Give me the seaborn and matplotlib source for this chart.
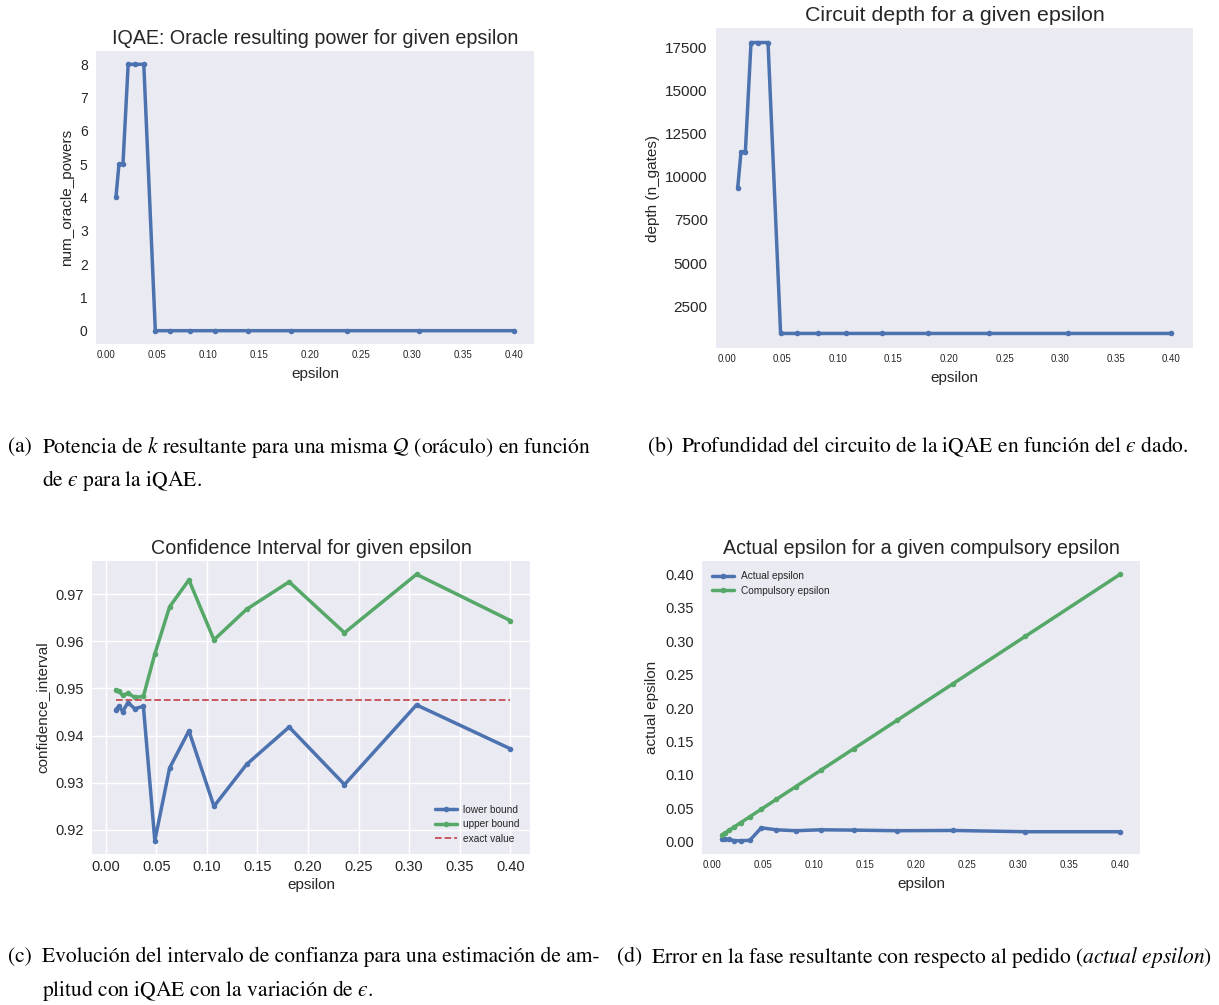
import matplotlib
matplotlib.use("Agg")
import matplotlib.pyplot as plt
import seaborn as sns
import pandas as pd

# ---------------- data ----------------
epsilon = [0.0100, 0.0130, 0.0169, 0.0220, 0.0287, 0.0373, 0.0486, 0.0632,
           0.0823, 0.1071, 0.1394, 0.1814, 0.2361, 0.3073, 0.4000]
num_oracle_powers = [4, 5, 5, 8, 8, 8, 0, 0, 0, 0, 0, 0, 0, 0, 0]
depth = [9350, 11450, 11450, 17780, 17780, 17780, 920, 920, 920, 920,
         920, 920, 920, 920, 920]
lower_bound = [0.9455, 0.9462, 0.9451, 0.9470, 0.9457, 0.9462, 0.9177, 0.9331,
               0.9410, 0.9250, 0.9339, 0.9418, 0.9296, 0.9465, 0.9372]
upper_bound = [0.9497, 0.9495, 0.9485, 0.9490, 0.9481, 0.9483, 0.9573, 0.9673,
               0.9730, 0.9603, 0.9668, 0.9726, 0.9618, 0.9742, 0.9644]
exact_value = 0.9475
actual_epsilon = [0.0035, 0.0035, 0.0035, 0.0015, 0.0015, 0.0020, 0.0208, 0.0178,
                  0.0164, 0.0178, 0.0173, 0.0164, 0.0168, 0.0149, 0.0149]
compulsory_epsilon = epsilon

df = pd.DataFrame({
    "epsilon": epsilon,
    "num_oracle_powers": num_oracle_powers,
    "depth": depth,
    "lower": lower_bound,
    "upper": upper_bound,
    "actual": actual_epsilon,
    "compulsory": compulsory_epsilon,
})

# ---------------- style ----------------
sns.set_theme(style="dark", rc={"axes.facecolor": "#EAEAF2"})
plt.rcParams["font.family"] = ["Liberation Sans", "DejaVu Sans"]
plt.rcParams["mathtext.fontset"] = "stix"

BLUE, GREEN, RED = "#4C72B0", "#55A868", "#C44E52"
TXT = "#262626"
W, H = 1219, 1005
fig = plt.figure(figsize=(W / 100, H / 100), dpi=100)


def box(l, t, r, b):
    return [l / W, 1 - b / H, (r - l) / W, (b - t) / H]


line_kw = dict(marker="o", markersize=4, linewidth=2.5, markeredgewidth=0)


def style_axes(ax, title, ylabel, xt_size, yt_size, title_size=14.2, lab_size=11,
               xlabelpad=5):
    ax.set_title(title, fontsize=title_size, color=TXT, pad=5)
    ax.set_xlabel("epsilon", fontsize=lab_size, color=TXT, labelpad=xlabelpad)
    ax.set_ylabel(ylabel, fontsize=lab_size, color=TXT, labelpad=4)
    ax.tick_params(axis="x", labelsize=xt_size, colors=TXT, pad=4, length=0)
    ax.tick_params(axis="y", labelsize=yt_size, colors=TXT, pad=6, length=0)
    for s in ax.spines.values():
        s.set_visible(False)
    ax.set_xticks([0.0, 0.05, 0.10, 0.15, 0.20, 0.25, 0.30, 0.35, 0.40])


# (a)
ax1 = fig.add_axes(box(96, 51, 534, 344))
sns.lineplot(data=df, x="epsilon", y="num_oracle_powers", ax=ax1, color=BLUE, **line_kw)
style_axes(ax1, "IQAE: Oracle resulting power for given epsilon", "num_oracle_powers", 7, 10)
ax1.grid(False)

# (b)
ax2 = fig.add_axes(box(716, 28, 1193, 348))
sns.lineplot(data=df, x="epsilon", y="depth", ax=ax2, color=BLUE, **line_kw)
style_axes(ax2, "Circuit depth for a given epsilon", "depth (n_gates)", 7, 11,
           title_size=15.4)
ax2.set_yticks([2500, 5000, 7500, 10000, 12500, 15000, 17500])
ax2.grid(False)

# (c)
ax3 = fig.add_axes(box(92, 561, 530, 854))
sns.lineplot(data=df, x="epsilon", y="lower", ax=ax3, color=BLUE, label="lower bound", **line_kw)
sns.lineplot(data=df, x="epsilon", y="upper", ax=ax3, color=GREEN, label="upper bound", **line_kw)
ax3.plot([epsilon[0], epsilon[-1]], [exact_value, exact_value], color=RED,
         linestyle="--", linewidth=1.3, label="exact value")
style_axes(ax3, "Confidence Interval for given epsilon", "confidence_interval", 10.5, 10.5,
           xlabelpad=3)
ax3.set_yticks([0.92, 0.93, 0.94, 0.95, 0.96, 0.97])
ax3.grid(True, color="white", linewidth=1)
ax3.set_axisbelow(True)
ax3.set_xlim(-0.0135, 0.4195)
leg = ax3.legend(loc="lower right", fontsize=7.3, frameon=False, handlelength=2.2,
                 handletextpad=0.6, borderaxespad=0.6, labelspacing=0.45)
for t in leg.get_texts():
    t.set_color(TXT)

# (d)
ax4 = fig.add_axes(box(702, 561, 1140, 854))
sns.lineplot(data=df, x="epsilon", y="actual", ax=ax4, color=BLUE, label="Actual epsilon", **line_kw)
sns.lineplot(data=df, x="epsilon", y="compulsory", ax=ax4, color=GREEN, label="Compulsory epsilon", **line_kw)
style_axes(ax4, "Actual epsilon for a given compulsory epsilon", "actual epsilon", 7, 10.5)
ax4.set_yticks([0.0, 0.05, 0.10, 0.15, 0.20, 0.25, 0.30, 0.35, 0.40])
ax4.grid(False)
leg = ax4.legend(loc="upper left", fontsize=7.3, frameon=False, handlelength=2.2,
                 handletextpad=0.6, borderaxespad=0.6, labelspacing=0.45)
for t in leg.get_texts():
    t.set_color(TXT)

# ---------------- captions ----------------
cap_kw = dict(fontsize=15.5, family="STIXGeneral", color="black", va="center", ha="left")


def cap(x, y, s):
    fig.text(x / W, 1 - y / H, s, **cap_kw)


cap(8, 447, "(a)")
cap(42, 447, r"Potencia de $k$ resultante para una misma $\mathcal{Q}$ (oráculo) en función")
cap(42, 480, r"de $ϵ$ para la iQAE.")
cap(648, 447, "(b)")
cap(681, 447, r"Profundidad del circuito de la iQAE en función del $ϵ$ dado.")
cap(8, 957, "(c)")
cap(42, 957, "Evolución del intervalo de confianza para una estimación de am-")
cap(42, 990, r"plitud con iQAE con la variación de $ϵ$.")
cap(617, 957, "(d)")
cap(651, 957, r"Error en la fase resultante con respecto al pedido ($\mathit{actual\ epsilon}$)")

fig.savefig("out.png", dpi=100)
